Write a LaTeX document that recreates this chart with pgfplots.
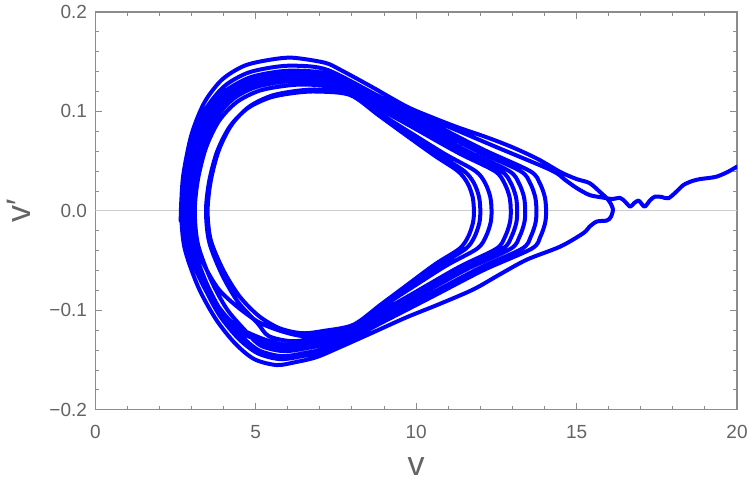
\documentclass[border=0pt]{standalone}
\usepackage{fontspec}
\setmainfont{Liberation Sans}
\usepackage{pgfplots}
\pgfplotsset{compat=1.18}
\usetikzlibrary{calc}
\definecolor{framegray}{RGB}{140,140,140}
\definecolor{textgray}{RGB}{100,100,100}
\definecolor{mblue}{RGB}{0,0,255}
\begin{document}
\begin{tikzpicture}
\begin{axis}[
  scale only axis,
  width=321pt, height=199pt,
  xmin=0, xmax=20, ymin=-0.2, ymax=0.2,
  xtick={0,5,10,15,20},
  xticklabels={0,5,10,15,20},
  ytick={-0.2,-0.1,0,0.1,0.2},
  yticklabels={−0.2,−0.1,0.0,0.1,0.2},
  minor x tick num=4,
  minor y tick num=4,
  tick align=inside,
  major tick length=3.5pt,
  minor tick length=2pt,
  axis line style={framegray, line width=0.6pt},
  every tick/.style={framegray, line width=0.5pt},
  tick label style={font=\fontsize{9.5}{11}\selectfont, text=textgray},
  xticklabel style={anchor=center, yshift=-11pt, inner sep=0pt},
  yticklabel style={anchor=east, xshift=-4pt, inner sep=0pt},
  xlabel={v}, ylabel={v′},
  label style={font=\fontsize{17}{19}\selectfont, text=textgray},
  x label style={at={(axis description cs:0.5,0)}, anchor=center, yshift=-28.5pt},
  y label style={at={(axis description cs:0,0.5)}, anchor=center, yshift=38.5pt},
]
\addplot[gray!40, line width=0.5pt] coordinates {(0,0) (20,0)};
\addplot[mblue, line width=2pt, smooth, line join=round, line cap=round] coordinates {
(2.66,-0.01)(2.68,0.01)(2.75,0.038)(3.0,0.077)(3.4,0.109)(3.95,0.132)(4.65,0.146)(5.45,0.152)(6.15,0.154)(7.15,0.149)(7.63,0.142)(8.6,0.125)(9.7,0.105)(10.5,0.094)(11.3,0.084)(12.2,0.074)(13.0,0.064)(13.8,0.052)(14.5,0.039)(15.0,0.032)(15.4,0.028)(15.73,0.019)(15.99,0.011)(16.13,0.002)(16.07,-0.006)(15.94,-0.0097)(15.63,-0.0107)(15.4,-0.016)(15.21,-0.0224)(14.49,-0.0359)(13.45,-0.049)(12.6,-0.064)(11.78,-0.079)(10.7,-0.094)(9.7,-0.107)(8.6,-0.123)(7.63,-0.137)(6.9,-0.147)(6.25,-0.152)(5.65,-0.155)(4.95,-0.149)(4.35,-0.133)(3.75,-0.1085)(3.2,-0.076)(2.78,-0.037)
(2.68,0)(2.78,0.0365)(3.05,0.073)(3.47,0.1037)(4.03,0.1256)(4.74,0.1387)(5.55,0.1445)(6.25,0.146)(7.25,0.1416)(8.86,0.1150)(10.48,0.0883)(12.09,0.0617)(13.55,0.040)(13.85,0.028)(14.01,0.014)(14.05,0)
(14.02,-0.012)(13.87,-0.026)(13.6,-0.038)(12.11,-0.0594)(10.53,-0.0858)(8.94,-0.1122)(7.35,-0.1386)(6.45,-0.146)(5.75,-0.149)(5.05,-0.143)(4.45,-0.128)(3.85,-0.104)(3.35,-0.073)(2.95,-0.0358)
(2.85,0)(2.95,0.0343)(3.20,0.0685)(3.60,0.0973)(4.15,0.1178)(4.85,0.1302)(5.65,0.1356)(6.35,0.137)(7.35,0.1329)(8.78,0.1084)(10.20,0.0840)(11.63,0.0595)(12.9,0.04)(13.2,0.028)(13.36,0.014)(13.4,0)
(13.37,-0.012)(13.22,-0.026)(12.95,-0.038)(11.65,-0.0575)(10.25,-0.0821)(8.85,-0.1066)(7.45,-0.1311)(6.55,-0.1382)(5.85,-0.141)(5.15,-0.1354)(4.7,-0.1213)(4.1,-0.0987)(3.6,-0.0691)(3.2,-0.0338)
(3.1,0)(3.2,0.0318)(3.45,0.0635)(3.85,0.0902)(4.4,0.1092)(5.1,0.1207)(5.9,0.1257)(6.6,0.127)(7.6,0.1232)(8.7,0.1012)(9.8,0.0791)(10.9,0.0571)(11.85,0.04)(12.15,0.028)(12.31,0.014)(12.35,0)
(12.32,-0.012)(12.17,-0.026)(11.9,-0.038)(10.93,-0.0552)(9.85,-0.0774)(8.78,-0.0996)(7.7,-0.1218)(6.8,-0.1284)(6.1,-0.131)(5.4,-0.1258)(5.05,-0.1127)(4.45,-0.0917)(3.95,-0.0642)(3.55,-0.0314)
(3.45,0)(3.55,0.03)(3.8,0.06)(4.2,0.0852)(4.75,0.1032)(5.45,0.114)(6.25,0.1188)(6.95,0.12)(7.95,0.1164)(8.83,0.0961)(9.7,0.0757)(10.58,0.0554)(11.3,0.04)(11.6,0.028)(11.76,0.014)(11.8,0)
(11.77,-0.012)(11.62,-0.026)(11.35,-0.038)(10.6,-0.0534)(9.75,-0.0737)(8.9,-0.0941)(8.05,-0.1144)(7.15,-0.1205)(6.45,-0.123)(5.75,-0.1181)(5.1,-0.1058)(4.5,-0.0861)(4.0,-0.0603)(3.6,-0.0295)
(3.5,0)(3.6,0.0305)(3.85,0.061)(4.25,0.0866)(4.8,0.1049)(5.5,0.1159)(6.3,0.1208)(7.0,0.122)(8.0,0.1183)(8.91,0.0975)(9.83,0.0767)(10.74,0.0558)(11.5,0.04)(11.8,0.028)(11.96,0.014)(12.0,0)
(11.97,-0.012)(11.82,-0.026)(11.55,-0.038)(10.76,-0.054)(9.88,-0.0751)(8.99,-0.0961)(8.1,-0.1172)(7.2,-0.1235)(6.5,-0.126)(5.8,-0.121)(5.1,-0.112)(4.45,-0.097)(3.85,-0.079)(3.4,-0.055)(3.1,-0.0302)
(3.0,0)(3.1,0.0328)(3.35,0.0655)(3.75,0.093)(4.3,0.1127)(5.0,0.1245)(5.8,0.1297)(6.5,0.131)(7.5,0.1271)(8.78,0.104)(10.05,0.0811)(11.33,0.058)(12.45,0.04)(12.75,0.028)(12.91,0.014)(12.95,0)
(12.92,-0.012)(12.77,-0.026)(12.5,-0.038)(11.35,-0.0562)(10.1,-0.0793)(8.85,-0.1025)(7.6,-0.1256)(6.7,-0.1323)(6.0,-0.135)(5.3,-0.1296)(4.4,-0.1161)(3.8,-0.0945)(3.3,-0.0662)(2.9,-0.0324)
(2.8,0)(2.9,0.0353)(3.15,0.0705)(3.55,0.1001)(4.1,0.1213)(4.8,0.134)(5.6,0.1396)(6.3,0.141)(7.3,0.1368)(8.83,0.1114)(10.35,0.0859)(11.88,0.0605)(13.25,0.04)(13.55,0.028)(13.71,0.014)(13.75,0)
(13.72,-0.012)(13.57,-0.026)(13.3,-0.038)(11.9,-0.0587)(10.4,-0.0844)(8.9,-0.1101)(7.4,-0.1358)(6.5,-0.1431)(5.8,-0.146)(5.1,-0.1402)(4.55,-0.1256)(3.95,-0.1022)(3.45,-0.0715)(3.05,-0.035)
(2.95,0)(3.05,0.0335)(3.3,0.067)(3.7,0.0951)(4.25,0.1152)(4.95,0.1273)(5.75,0.1327)(6.45,0.134)(7.45,0.13)(8.79,0.1063)(10.13,0.0825)(11.46,0.0588)(12.65,0.04)(12.95,0.028)(13.11,0.014)(13.15,0)
(13.12,-0.012)(12.97,-0.026)(12.7,-0.038)(11.49,-0.0568)(10.18,-0.0806)(8.86,-0.1045)(7.55,-0.1283)(6.65,-0.1352)(5.95,-0.138)(5.25,-0.1325)(4.35,-0.1187)(3.75,-0.0966)(3.25,-0.0676)(2.85,-0.0331)
(2.75,0)(2.85,0.035)(3.1,0.07)(3.5,0.0994)(4.05,0.1204)(4.75,0.133)(5.55,0.1386)(6.25,0.14)(7.25,0.1358)(8.99,0.112)(10.73,0.0884)(12.46,0.0647)(14.2,0.041)(14.65,0.031)(15.0,0.023)(15.4,0.016)(15.8,0.0135)(16.1,0.012)(16.36,0.013)(16.52,0.009)(16.67,0.0043)(16.8,0.008)(16.93,0.0104)(17.03,0.007)(17.13,0.0043)(17.3,0.011)(17.45,0.0144)(17.65,0.014)(17.86,0.0127)(18.1,0.019)(18.33,0.026)(18.6,0.030)(18.85,0.032)(19.1,0.033)(19.37,0.0345)(19.7,0.039)(20.0,0.0445)
};
\end{axis}
\path ($(current axis.south west)+(-47.5pt,-38pt)$) rectangle ($(current axis.north east)+(6.5pt,6pt)$);
\end{tikzpicture}
\end{document}
